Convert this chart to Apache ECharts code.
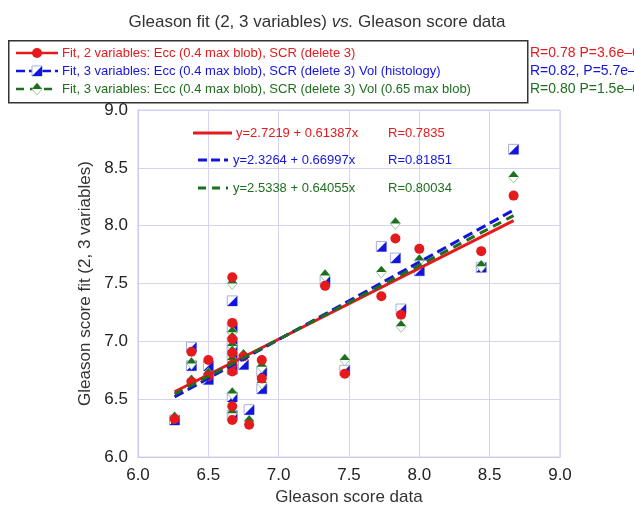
<!DOCTYPE html>
<html>
<head>
<meta charset="utf-8">
<script src="https://cdn.jsdelivr.net/npm/echarts@6/dist/echarts.min.js"></script>
<style>
html,body{margin:0;padding:0;background:#fff;}
#main{width:634px;height:511px;}
</style>
</head>
<body>
<div id="main"></div>
<script>
// Gleason score data (x) of each sample
var gleasonData = [6.26, 6.38, 6.38, 6.50, 6.50, 6.67, 6.67, 6.67, 6.67, 6.67, 6.67, 6.67, 6.67,
    6.75, 6.79, 6.88, 6.88, 7.33, 7.47, 7.73, 7.83, 7.87, 8.00, 8.44, 8.67];
// fitted Gleason score, 2 variables (red)
var fit2Var = [6.33, 6.91, 6.65, 6.84, 6.70, 7.555, 7.16, 7.02, 6.90, 6.80, 6.74, 6.44, 6.32,
    6.87, 6.28, 6.84, 6.68, 7.48, 6.72, 7.39, 7.89, 7.23, 7.80, 7.78, 8.26];
// fitted, 3 variables with Vol (histology) (blue)
var fit3VarHisto = [6.32, 6.95, 6.79, 6.79, 6.67, 7.35, 7.12, 6.99, 6.93, 6.86, 6.76, 6.52, 6.36,
    6.80, 6.41, 6.74, 6.59, 7.52, 6.75, 7.82, 7.72, 7.28, 7.61, 7.64, 8.66];
// fitted, 3 variables with Vol (0.65 max blob) (green)
var fit3VarBlob = [6.34, 6.81, 6.66, 6.71, 6.72, 7.50, 7.08, 7.03, 6.96, 6.91, 6.84, 6.55, 6.38,
    6.88, 6.31, 6.78, 6.64, 7.57, 6.84, 7.60, 8.02, 7.13, 7.70, 7.65, 8.42];

// regression lines (end points)
var lineX = [6.26, 8.67];
var line2Var = [6.565, 8.044];
var line3VarHisto = [6.520, 8.135];
var line3VarBlob = [6.544, 8.087];

var legendNames = [
    'Fit, 2 variables: Ecc (0.4 max blob), SCR (delete 3)',
    'Fit, 3 variables: Ecc (0.4 max blob), SCR (delete 3) Vol (histology)',
    'Fit, 3 variables: Ecc (0.4 max blob), SCR (delete 3) Vol (0.65 max blob)'
];
var statTexts = ['R=0.78 P=3.6e\u20136', 'R=0.82, P=5.7e\u20137', 'R=0.80 P=1.5e\u20136'];
var eqTexts = ['y=2.7219 + 0.61387x', 'y=2.3264 + 0.66997x', 'y=2.5338 + 0.64055x'];
var rTexts = ['R=0.7835', 'R=0.81851', 'R=0.80034'];

var RED = '#e41a1c', BLUE = '#1414e0', GREEN = '#1e6e1e';
var FONT = '"Liberation Sans", Arial, sans-serif';

function pairs(xs, ys) {
    var out = [];
    for (var i = 0; i < xs.length; i++) out.push([xs[i], ys[i]]);
    return out;
}

function halfSquare(cx, cy, h) {
    return [
        {type: 'rect', shape: {x: cx - h, y: cy - h, width: 2 * h, height: 2 * h},
            style: {fill: '#fff', stroke: '#a4aee0', lineWidth: 1}},
        {type: 'polygon', shape: {points: [[cx + h, cy - h], [cx + h, cy + h], [cx - h, cy + h]]},
            style: {fill: BLUE}}
    ];
}
function halfDiamond(cx, cy, w, h) {
    return [
        {type: 'polygon', shape: {points: [[cx, cy - h], [cx + w, cy], [cx, cy + h], [cx - w, cy]]},
            style: {fill: '#fff', stroke: '#9ccc9c', lineWidth: 1}},
        {type: 'polygon', shape: {points: [[cx, cy - h], [cx + w, cy], [cx - w, cy]]},
            style: {fill: GREEN}}
    ];
}

var dom = document.getElementById('main');
var myChart = echarts.init(dom);

// legend box + regression text
var graphics = [];
graphics.push({type: 'rect', left: 8, top: 40, shape: {width: 519, height: 62},
    style: {fill: '#fff', stroke: '#333', lineWidth: 1.5}, z: 10});
var rowY = [53, 71, 89];
var colors = [RED, BLUE, GREEN];
var dashes = [null, [9, 4], [8, 6]];
for (var i = 0; i < 3; i++) {
    graphics.push({type: 'line', shape: {x1: 16, y1: rowY[i], x2: 58, y2: rowY[i]},
        style: {stroke: colors[i], lineWidth: 2.5, lineDash: dashes[i]}, z: 11});
    var ch;
    if (i == 0) ch = [{type: 'circle', shape: {cx: 37, cy: rowY[i], r: 5}, style: {fill: RED}}];
    else if (i == 1) ch = halfSquare(37, rowY[i], 5);
    else ch = halfDiamond(37, rowY[i], 5, 6);
    for (var k = 0; k < ch.length; k++) {
        ch[k].z = 12 + k;
        graphics.push(ch[k]);
    }
    graphics.push({type: 'text', x: 62, y: rowY[i], z: 11,
        style: {text: legendNames[i], fill: colors[i], font: '13px ' + FONT, verticalAlign: 'middle'}});
    graphics.push({type: 'text', x: 530, y: rowY[i], z: 11,
        style: {text: statTexts[i], fill: colors[i], font: '14px ' + FONT, verticalAlign: 'middle'}});
}
var eqY = [133, 160, 188];
var eqX1 = [193, 198, 198], eqX2 = [232, 228, 228], eqTx = [236, 233, 233];
for (var i = 0; i < 3; i++) {
    graphics.push({type: 'line', shape: {x1: eqX1[i], y1: eqY[i], x2: eqX2[i], y2: eqY[i]},
        style: {stroke: colors[i], lineWidth: 3, lineDash: dashes[i]}, z: 11});
    graphics.push({type: 'text', x: eqTx[i], y: eqY[i], z: 11,
        style: {text: eqTexts[i], fill: colors[i], font: '13px ' + FONT, verticalAlign: 'middle'}});
    graphics.push({type: 'text', x: 388, y: eqY[i], z: 11,
        style: {text: rTexts[i], fill: colors[i], font: '13px ' + FONT, verticalAlign: 'middle'}});
}

var option = {
    animation: false,
    backgroundColor: '#fff',
    title: {
        text: '{a|Gleason fit (2, 3 variables) }{b|vs.}{a| Gleason score data}',
        left: 'center',
        top: 9,
        textStyle: {
            fontWeight: 'normal',
            rich: {
                a: {fontSize: 17, color: '#333', fontFamily: FONT, fontWeight: 'normal'},
                b: {fontSize: 17, color: '#333', fontFamily: FONT, fontWeight: 'normal', fontStyle: 'italic'}
            }
        }
    },
    grid: {left: 138, right: 74, top: 110, bottom: 50, show: true, borderColor: '#c8c8f0', borderWidth: 1},
    xAxis: {
        type: 'value', min: 6, max: 9, interval: 0.5,
        name: 'Gleason score data', nameLocation: 'middle', nameGap: 27,
        nameTextStyle: {fontSize: 17, color: '#333', fontFamily: FONT},
        axisLine: {show: true, lineStyle: {color: '#c8c8f0'}},
        axisTick: {show: false},
        axisLabel: {fontSize: 17, color: '#222', fontFamily: FONT, margin: 10,
            formatter: function (v) { return v.toFixed(1); }},
        splitLine: {lineStyle: {color: '#d4d4f6'}}
    },
    yAxis: {
        type: 'value', min: 6, max: 9, interval: 0.5,
        name: 'Gleason score fit (2, 3 variables)', nameLocation: 'middle', nameGap: 27,
        nameTextStyle: {fontSize: 17, color: '#333', fontFamily: FONT},
        axisLine: {show: true, lineStyle: {color: '#c8c8f0'}},
        axisTick: {show: false},
        axisLabel: {fontSize: 17, color: '#222', fontFamily: FONT, margin: 10,
            formatter: function (v) { return v.toFixed(1); }},
        splitLine: {lineStyle: {color: '#d4d4f6'}}
    },
    series: [
        {type: 'line', data: pairs(lineX, line2Var), showSymbol: false, silent: true,
            lineStyle: {color: RED, width: 3}},
        {type: 'line', data: pairs(lineX, line3VarHisto), showSymbol: false, silent: true,
            lineStyle: {color: BLUE, width: 3, type: [10, 5]}},
        {type: 'line', data: pairs(lineX, line3VarBlob), showSymbol: false, silent: true,
            lineStyle: {color: GREEN, width: 3, type: [9, 6]}},
        {type: 'scatter', data: pairs(gleasonData, fit2Var), symbol: 'circle', symbolSize: 10,
            itemStyle: {color: RED, opacity: 1}},
        {type: 'custom', data: pairs(gleasonData, fit3VarHisto), encode: {x: 0, y: 1},
            renderItem: function (params, api) {
                var p = api.coord([api.value(0), api.value(1)]);
                return {type: 'group', children: halfSquare(p[0], p[1], 5)};
            }},
        {type: 'custom', data: pairs(gleasonData, fit3VarBlob), encode: {x: 0, y: 1},
            renderItem: function (params, api) {
                var p = api.coord([api.value(0), api.value(1)]);
                return {type: 'group', children: halfDiamond(p[0], p[1], 5, 6)};
            }}
    ],
    graphic: graphics
};
myChart.setOption(option, true);
</script>
</body>
</html>
